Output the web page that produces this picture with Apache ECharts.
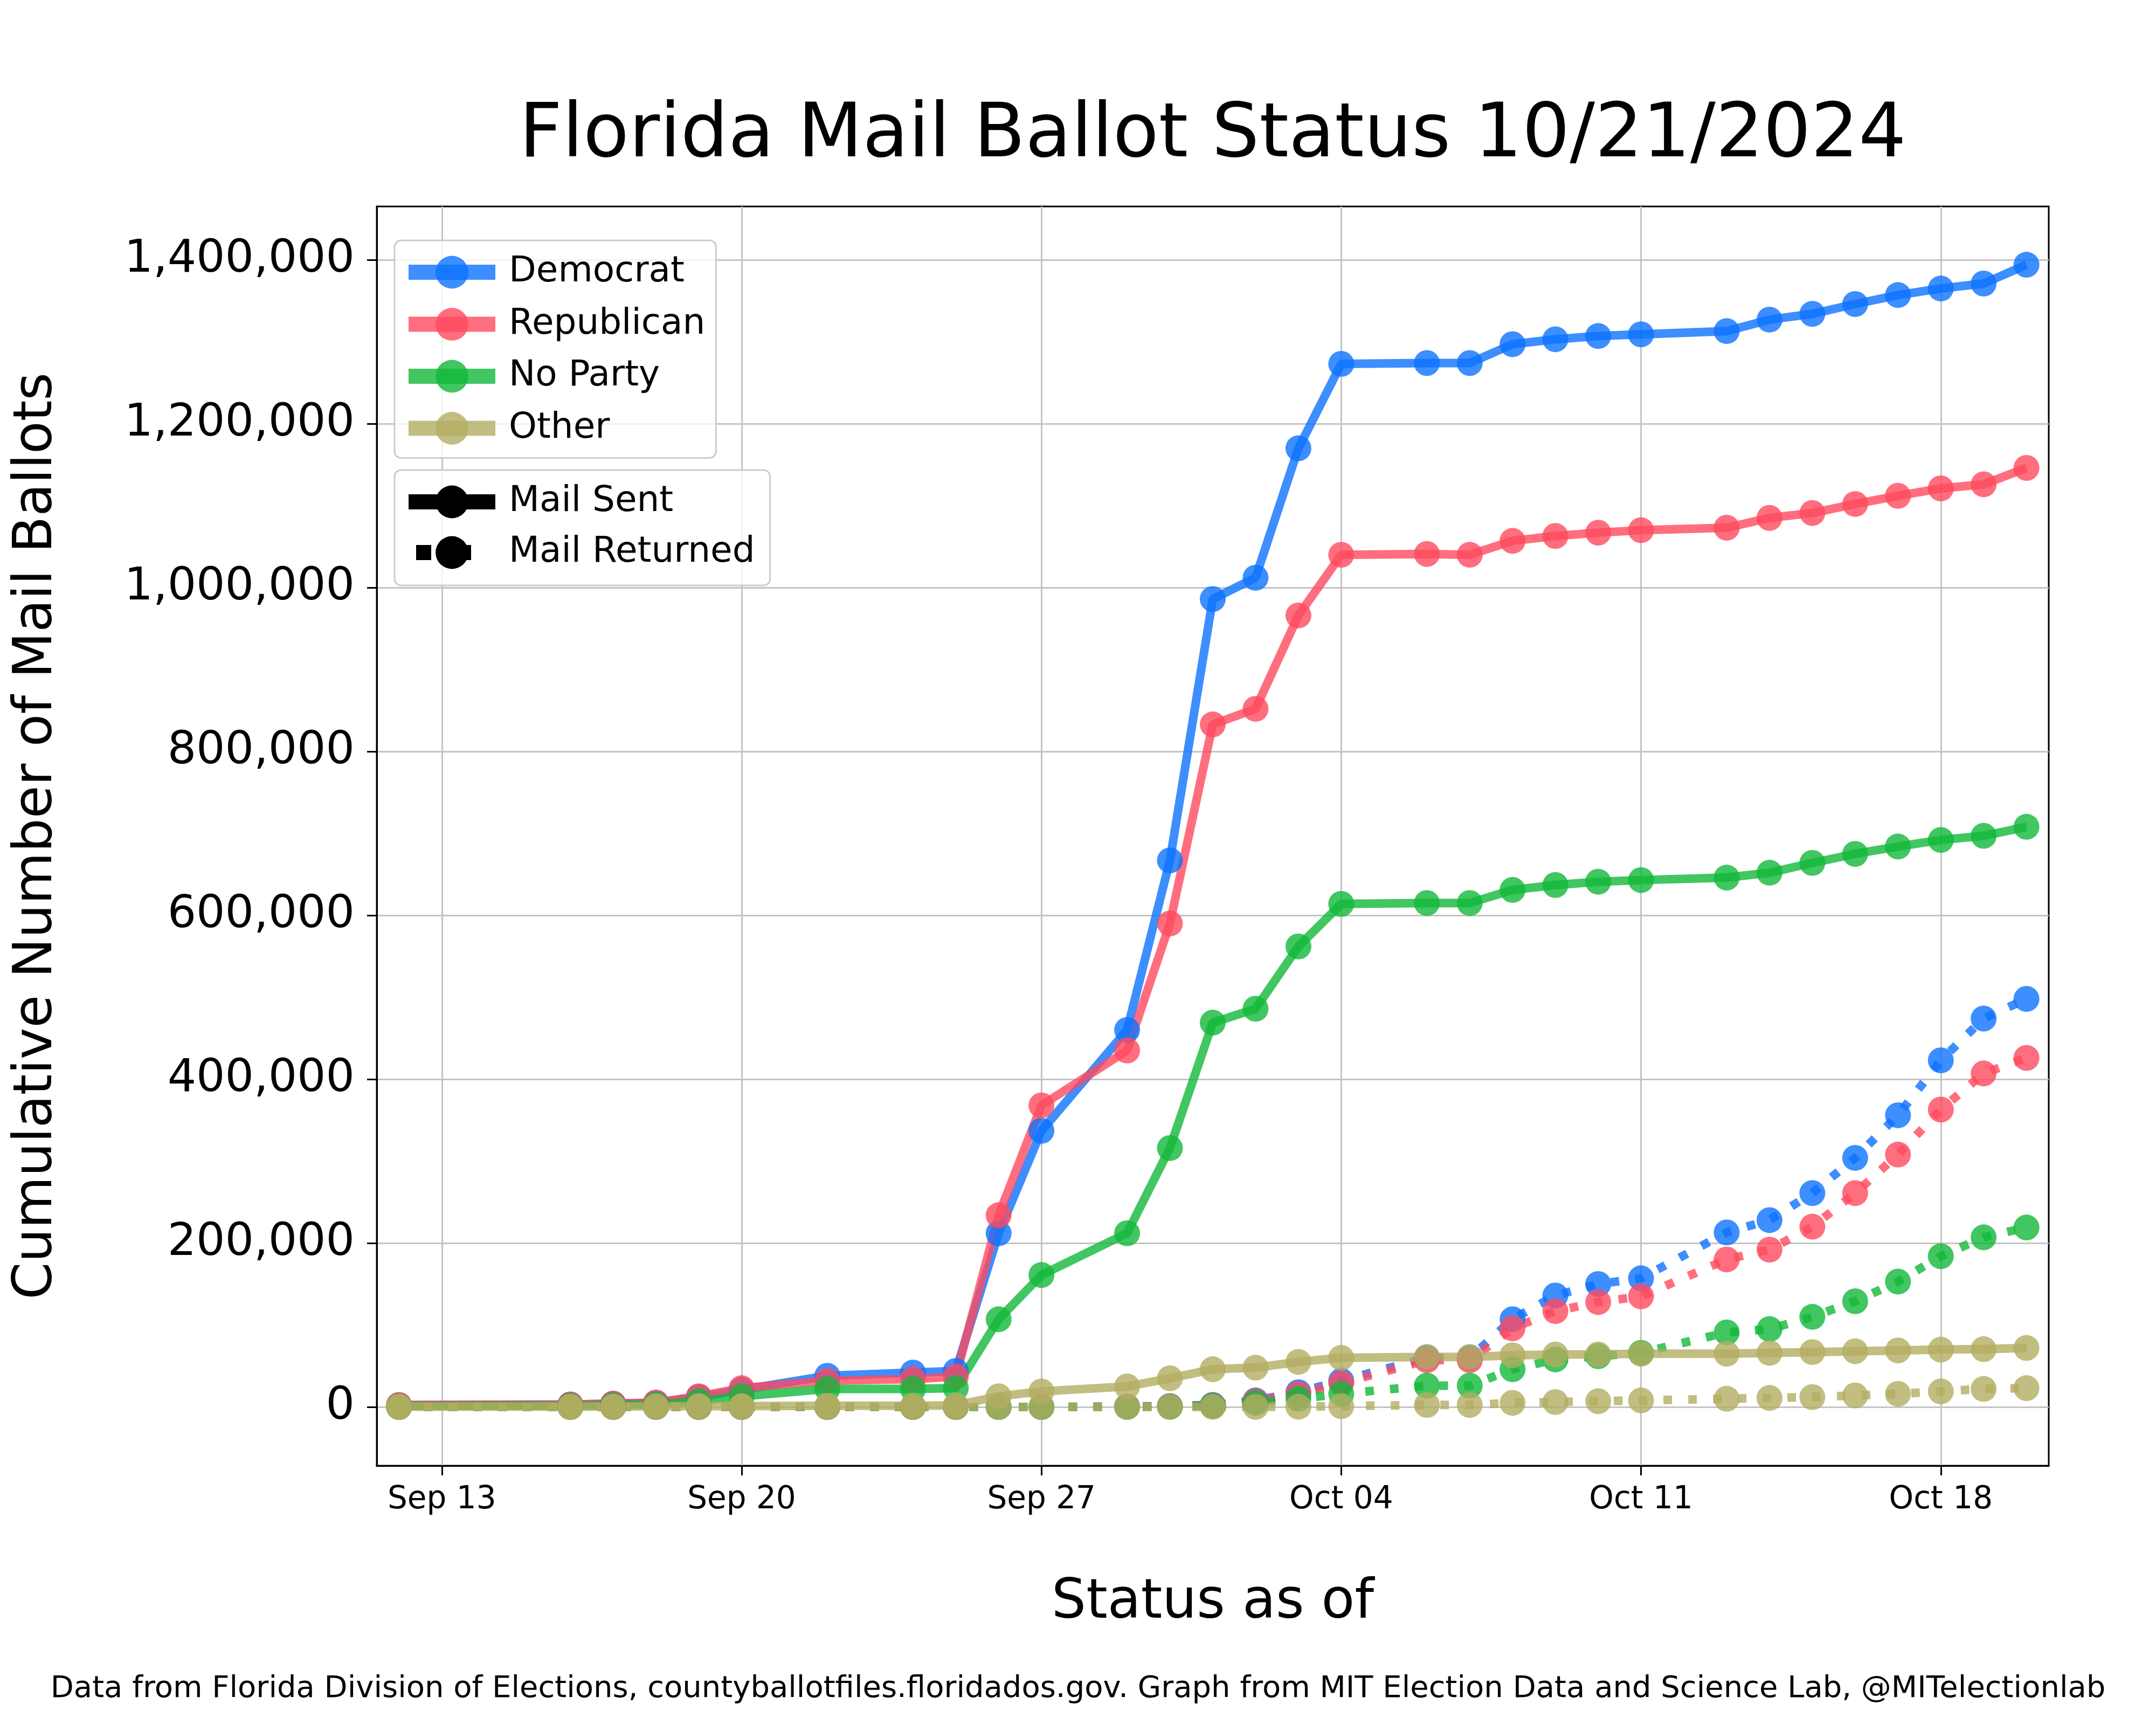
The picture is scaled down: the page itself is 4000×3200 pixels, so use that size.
<!DOCTYPE html>
<html><head><meta charset="utf-8">
<script src="https://cdn.jsdelivr.net/npm/echarts@6/dist/echarts.min.js"></script>
<style>html,body{margin:0;padding:0;background:#fff}#c{width:4000px;height:3200px}</style>
</head><body><div id="c"></div>
<script>
// ---- data ----
const dates = ['2024-09-12','2024-09-16','2024-09-17','2024-09-18','2024-09-19','2024-09-20','2024-09-22','2024-09-24','2024-09-25','2024-09-26','2024-09-27','2024-09-29','2024-09-30','2024-10-01','2024-10-02','2024-10-03','2024-10-04','2024-10-06','2024-10-07','2024-10-08','2024-10-09','2024-10-10','2024-10-11','2024-10-13','2024-10-14','2024-10-15','2024-10-16','2024-10-17','2024-10-18','2024-10-19','2024-10-20'];

const demSent = [2000,3000,4000,5000,12000,21000,38000,42000,44000,212000,337000,460000,667000,986000,1012000,1170000,1273000,1274000,1274000,1297000,1303000,1307000,1309000,1313000,1327000,1334000,1346000,1357000,1365000,1371000,1394000];
const repSent = [2500,3000,4000,5500,13000,23000,32000,34000,37000,234000,368000,435000,590000,833000,852000,966000,1040000,1041000,1040000,1057000,1063000,1067000,1070000,1073000,1085000,1091000,1102000,1112000,1121000,1126000,1146000];
const npaSent = [1000,1500,2000,3000,7000,13000,22000,22000,23000,107000,161000,212000,316000,469000,486000,562000,614000,615000,615000,631000,637000,641000,643000,646000,652000,664000,675000,684000,692000,697000,708000];
const othSent = [500,500,500,800,1000,1000,1500,1500,2000,13000,19000,25000,35000,46000,48000,55000,60000,61000,61000,63000,64000,64000,65000,65000,66000,67000,68000,69000,70000,70500,72000];

const demRet = [0,0,0,0,0,0,0,0,0,0,0,500,1000,2500,8000,18000,32000,60000,60000,107000,136000,150000,157000,213000,228000,261000,304000,356000,423000,474000,498000];
const repRet = [0,0,0,0,0,0,0,0,0,0,0,400,800,2000,7000,16000,29000,57000,57000,96000,117000,128000,135000,180000,192000,220000,261000,308000,363000,407000,426000];
const npaRet = [0,0,0,0,0,0,0,0,0,0,0,200,300,1500,5000,10000,16000,26000,26000,46000,58000,62000,66000,91000,95000,110000,129000,153000,184000,207000,219000];
const othRet = [0,0,0,0,0,0,0,0,0,0,0,0,0,100,200,300,1000,2500,2500,5000,6000,7000,8000,10000,11000,12000,14000,16000,19000,22000,23000];

const xTickDates = ['2024-09-13','2024-09-20','2024-09-27','2024-10-04','2024-10-11','2024-10-18'];
const yTickValues = [0,200000,400000,600000,800000,1000000,1200000,1400000];
const partyNames = ['Democrat','Republican','No Party','Other'];
const statusNames = ['Mail Sent','Mail Returned'];

// ---- helpers ----
const BASE = Date.UTC(2024, 8, 1);
const dayNum = s => (Date.parse(s + 'T00:00:00Z') - BASE) / 864e5;
const MONTHS = ['Jan','Feb','Mar','Apr','May','Jun','Jul','Aug','Sep','Oct','Nov','Dec'];
function fmtDay(v) {
  const d = new Date(BASE + Math.round(v) * 864e5);
  return MONTHS[d.getUTCMonth()] + ' ' + String(d.getUTCDate()).padStart(2, '0');
}
const xs = dates.map(dayNum);
const pair = arr => arr.map((v, i) => [xs[i], v]);

const COLORS = { Democrat: '#0C72FF', Republican: '#FF4A5E', 'No Party': '#12B83A', Other: '#B3AD62' };
const FONT = 'DejaVu Sans';

function mk(name, data, returned) {
  const color = COLORS[name];
  return {
    name, type: 'line', data: pair(data), symbol: 'circle', symbolSize: 48,
    lineStyle: { color, width: 16, type: returned ? [16, 30] : 'solid', cap: 'butt', opacity: 0.8 },
    itemStyle: { color, opacity: 0.8 },
    emphasis: { disabled: true }, silent: true, clip: false
  };
}
// empty series used only as legend keys (bigger legend markers)
function key(name, color, dashed) {
  const op = color === '#000' ? 1 : 0.8;
  return { name, type: 'line', data: [], symbol: 'circle', symbolSize: 60,
    lineStyle: { color, width: 16, type: dashed ? [16, 30] : 'solid', opacity: op },
    itemStyle: { color, opacity: op } };
}

const series = [
  key('Democrat', COLORS.Democrat), key('Republican', COLORS.Republican),
  key('No Party', COLORS['No Party']), key('Other', COLORS.Other),
  mk('Democrat', demSent, false), mk('Democrat', demRet, true),
  mk('Republican', repSent, false), mk('Republican', repRet, true),
  mk('No Party', npaSent, false), mk('No Party', npaRet, true),
  mk('Other', othSent, false), mk('Other', othRet, true),
  key(statusNames[0], '#000', false), key(statusNames[1], '#000', true)
];

const legendCommon = {
  orient: 'vertical', left: 732, itemWidth: 161, itemHeight: 76, itemGap: 28,
  backgroundColor: 'rgba(255,255,255,0.8)', borderColor: '#cccccc', borderWidth: 3, borderRadius: 12,
  textStyle: { fontFamily: FONT, fontSize: 66, color: '#000', padding: [0, 0, 0, 20] },
  lineStyle: { width: 28, type: 'solid', cap: 'butt', opacity: 'inherit' },
  selectedMode: false
};

const option = {
  animation: false,
  backgroundColor: '#fff',
  textStyle: { fontFamily: FONT },
  title: [
    { text: 'Florida Mail Ballot Status 10/21/2024', left: 2250, textAlign: 'center', top: 184, padding: 0,
      textStyle: { fontFamily: FONT, fontSize: 139, fontWeight: 'normal', color: '#000' } },
    { text: 'Data from Florida Division of Elections, countyballotfiles.floridados.gov. Graph from MIT Election Data and Science Lab, @MITelectionlab',
      left: 2000, textAlign: 'center', top: 3105, padding: 0,
      textStyle: { fontFamily: FONT, fontSize: 56, fontWeight: 'normal', color: '#000' } }
  ],
  legend: [
    Object.assign({}, legendCommon, { top: 446, itemGap: 30.5, padding: [26, 20, 22, 12], data: partyNames }),
    Object.assign({}, legendCommon, { top: 872, padding: [26, 28, 28, 12],
      data: [{ name: statusNames[0] },
             { name: statusNames[1], lineStyle: { type: [28, 46], dashOffset: 60, width: 28 } }] })
  ],
  grid: { left: 699, right: 199, top: 383, bottom: 481, show: true, borderColor: '#000', borderWidth: 3, containLabel: false },
  xAxis: {
    type: 'value', min: dayNum(dates[0]) - 0.52, max: dayNum(dates[dates.length - 1]) + 0.52,
    axisLine: { show: true, onZero: false, lineStyle: { color: '#000', width: 3 } },
    axisTick: { show: true, length: 18, lineStyle: { color: '#000', width: 3 }, customValues: xTickDates.map(dayNum) },
    axisLabel: { customValues: xTickDates.map(dayNum), formatter: fmtDay, fontSize: 58, color: '#000', margin: 35 },
    splitLine: { show: true, lineStyle: { color: '#c4c4c4', width: 3 } },
    name: 'Status as of', nameLocation: 'middle', nameGap: 205,
    nameTextStyle: { fontSize: 101, color: '#000', fontFamily: FONT }
  },
  yAxis: {
    type: 'value', min: -71700, max: 1465100,
    axisLine: { show: true, lineStyle: { color: '#000', width: 3 } },
    axisTick: { show: true, length: 18, lineStyle: { color: '#000', width: 3 }, customValues: yTickValues },
    axisLabel: { customValues: yTickValues, formatter: v => Number(v).toLocaleString('en-US'), fontSize: 84, color: '#000', margin: 41 },
    splitLine: { show: true, lineStyle: { color: '#c4c4c4', width: 3 } },
    name: 'Cumulative Number of Mail Ballots', nameLocation: 'middle', nameGap: 580,
    nameTextStyle: { fontSize: 99, color: '#000', fontFamily: FONT }
  },
  series
};

const chart = echarts.init(document.getElementById('c'), null, { renderer: 'canvas', width: 4000, height: 3200 });
chart.setOption(option);
</script>
</body></html>
